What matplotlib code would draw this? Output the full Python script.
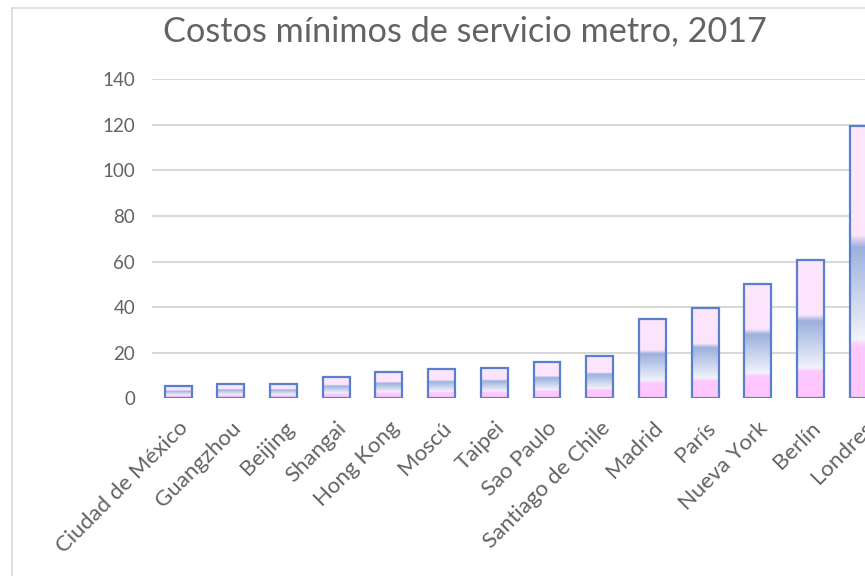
import numpy as np
import matplotlib
matplotlib.use("Agg")
import matplotlib.pyplot as plt
from matplotlib.colors import LinearSegmentedColormap
from matplotlib.lines import Line2D

# Minimum metro fares by city (2017)
cities = ["Ciudad de México", "Guangzhou", "Beijing", "Shangai", "Hong Kong",
          "Moscú", "Taipei", "Sao Paulo", "Santiago de Chile", "Madrid",
          "París", "Nueva York", "Berlín", "Londres"]
costs = [5.5, 6.5, 6.5, 9.4, 11.6, 12.9, 13.5, 16.0, 18.6, 35.0, 39.7, 50.2, 60.6, 119.2]
yticks = [0, 20, 40, 60, 80, 100, 120, 140]

plt.rcParams["font.family"] = ["Lato", "DejaVu Sans"]
text_color = "#636363"
grid_color = "#D9D9D9"
edge_color = "#5B7FCF"

# vertical gradient used to fill every bar (bottom -> top)
grad = LinearSegmentedColormap.from_list("bar_grad", [
    (0.00, "#FFC6FF"),
    (0.19, "#FFC8FF"),
    (0.215, "#F2F3FB"),
    (0.555, "#9CB1DD"),
    (0.60, "#FCE4FD"),
    (1.00, "#FDE7FD"),
])

fig = plt.figure(figsize=(8.65, 5.76), dpi=100)
ax = fig.add_axes([0.1754, 0.3082, 0.853, 0.5546])

x = np.arange(len(cities))
width = 0.51
bars = ax.bar(x, costs, width=width, facecolor="none", edgecolor=edge_color,
              linewidth=1.6, zorder=3)

ramp = np.linspace(0, 1, 400).reshape(-1, 1)
for rect in bars:
    x0 = rect.get_x()
    h = rect.get_height()
    im = ax.imshow(ramp, cmap=grad, origin="lower", aspect="auto",
                   extent=(x0, x0 + width, 0, h), zorder=2, interpolation="bilinear")
    im.set_clip_path(rect)

ax.set_xlim(-0.5, len(cities) - 0.5)
ax.set_ylim(0, 140)
ax.set_yticks(yticks)
ax.set_xticks(x)
ax.set_xticklabels(cities, rotation=45, ha="right", rotation_mode="anchor")

ax.grid(axis="y", color=grid_color, linewidth=1.5, zorder=0)
ax.yaxis.get_gridlines()[0].set_visible(False)
for s in ax.spines.values():
    s.set_visible(False)
ax.tick_params(axis="both", length=0, colors=text_color)
ax.tick_params(axis="y", pad=12, labelsize=13.5)
ax.tick_params(axis="x", pad=14, labelsize=16)

fig.text(0.5376, 0.945, "Costos mínimos de servicio metro, 2017", ha="center",
         va="center", fontsize=24.7, color=text_color)

# chart area frame
fig.add_artist(Line2D([12 / 865, 12 / 865], [0, 1 - 7.5 / 576],
                      transform=fig.transFigure, color=grid_color, linewidth=1.2))
fig.add_artist(Line2D([12 / 865, 1], [1 - 7.5 / 576, 1 - 7.5 / 576],
                      transform=fig.transFigure, color=grid_color, linewidth=1.2))

fig.savefig("out.png", dpi=100)
